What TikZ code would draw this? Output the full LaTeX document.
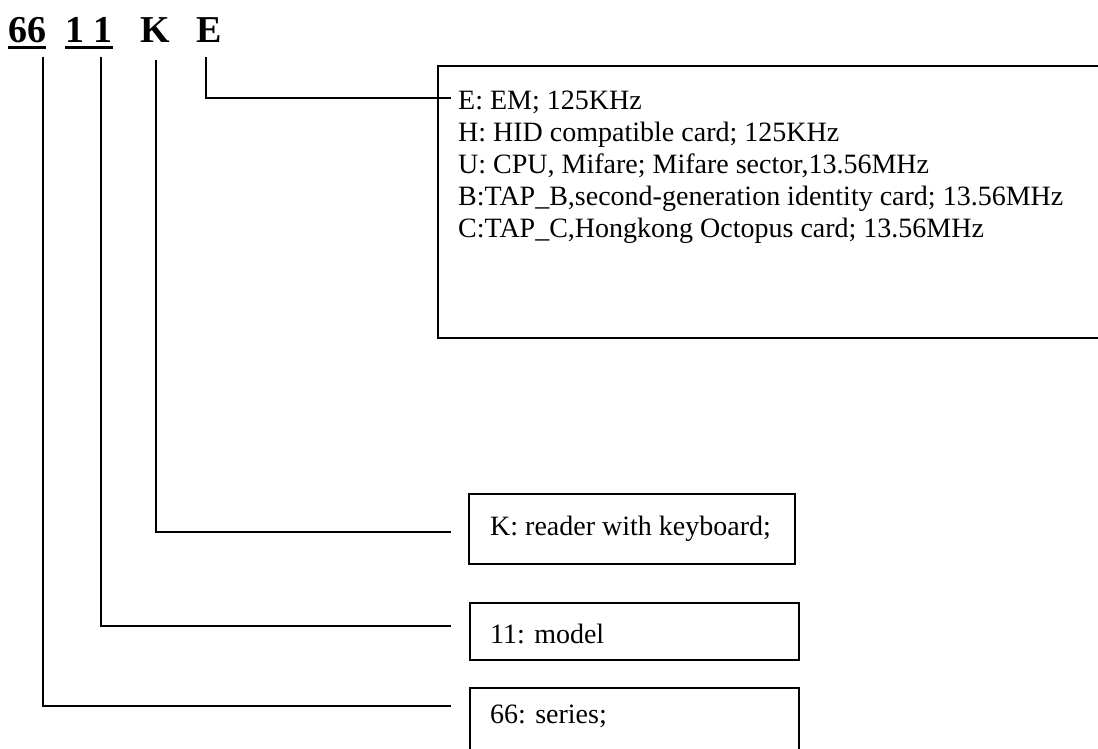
\documentclass[tikz,border=0pt]{standalone}
\usepackage{fontspec}
\setmainfont{Liberation Serif}
\begin{document}
\begin{tikzpicture}[x=1pt,y=-1pt,
  code/.style={inner sep=0pt,anchor=base west,font=\fontsize{38}{40}\selectfont\bfseries},
  txt/.style={inner sep=0pt,anchor=base west,font=\fontsize{28}{32}\selectfont},
  box/.style={draw,line width=2pt,anchor=north west,inner sep=0pt},
  wire/.style={line width=2pt},
  uline/.style={line width=3pt}]
\useasboundingbox (0,0) rectangle (1098,749);

% part-number code
\node[code] (d66) at (8,43) {66};
\node[code] (d11) at (65,43) {1 1};
\node[code] (dK) at (140,43) {K};
\node[code] (dE) at (196,43) {E};
\draw[uline] ([yshift=-4.5pt]d66.base west) -- ([yshift=-4.5pt]d66.base east);
\draw[uline] ([yshift=-4.5pt]d11.base west) -- ([yshift=-4.5pt]d11.base east);

% explanation boxes
\node[box,minimum width=680pt,minimum height=272pt] (bE) at (437,65) {};
\node[box,minimum width=326pt,minimum height=70pt] (bK) at (468,493) {};
\node[box,minimum width=329pt,minimum height=57pt] (b11) at (469,602) {};
\node[box,minimum width=329pt,minimum height=80pt] (b66) at (469,687) {};

\node[txt] (e1) at (458,110) {E: EM; 125KHz};
\node[txt] (e2) at (458,141.75) {H: HID compatible card; 125KHz};
\node[txt] (e3) at (458,173.5) {U: CPU, Mifare; Mifare sector,13.56MHz};
\node[txt] (e4) at (458,205.25) {B:TAP\_B,second-generation identity card; 13.56MHz};
\node[txt] (e5) at (458,237) {C:TAP\_C,Hongkong Octopus card; 13.56MHz};
\node[txt] (tK) at (490,535) {K: reader with keyboard;};
\node[txt] (t11) at (490,643) {11: model};
\node[txt] (t66) at (490,723) {66: series;};

% leader lines from each code letter to its box
\coordinate (sE) at (206,57);
\coordinate (sK) at (156,60);
\coordinate (s11) at (101,57);
\coordinate (s66) at (43,57);
\coordinate (eE) at (451,98.5);
\coordinate (eK) at (451,532);
\coordinate (e11) at (451,625.5);
\coordinate (e66) at (451,705.5);
\draw[wire] (sE) |- (eE);
\draw[wire] (sK) |- (eK);
\draw[wire] (s11) |- (e11);
\draw[wire] (s66) |- (e66);
\end{tikzpicture}
\end{document}
